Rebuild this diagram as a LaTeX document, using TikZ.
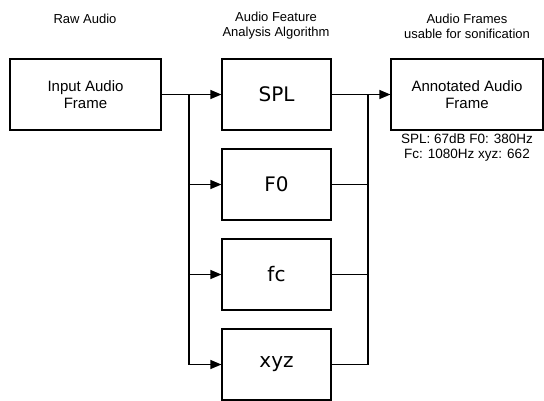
\documentclass[tikz,border=0pt]{standalone}
\usepackage{fontspec}
\setmainfont{Liberation Sans}
\newfontfamily\featfont{DejaVu Sans}
\usetikzlibrary{arrows.meta}
\tikzset{
  box/.style={draw=black, line width=1.2pt, minimum height=71pt, inner sep=0pt, align=center},
  iobox/.style={box, minimum width=151pt, font=\fontsize{15}{17}\selectfont},
  featbox/.style={box, minimum width=109pt, font=\featfont\fontsize{20}{24}\selectfont},
  head/.style={align=center, font=\fontsize{13}{15}\selectfont, inner sep=0pt},
  note/.style={align=center, font=\fontsize{13.5}{15}\selectfont, inner sep=0pt},
  conn/.style={line width=1.2pt},
  arr/.style={conn, -{Triangle[length=11pt,width=9pt]}}
}
\begin{document}
\begin{tikzpicture}[x=1pt,y=-1pt]
\useasboundingbox (0,0) rectangle (544,400);
\node[head] (h1) at (85,19) {Raw Audio};
\node[head] (h2) at (276,26) {Audio Feature\\Analysis Algorithm};
\node[head] (h3) at (467,26) {Audio Frames\\usable for sonification};

\node[iobox] (in) at (85.5,94.5) {Input Audio\\Frame};
\node[featbox] (spl) at (276.5,94.5) {SPL};
\node[featbox] (f0) at (276.5,184.5) {F0};
\node[featbox] (fc) at (276.5,274.5) {fc};
\node[featbox] (xyz) at (276.5,364.5) {xyz};
\node[iobox, minimum width=152pt] (out) at (467,94.5) {Annotated Audio\\Frame};
\node[note, anchor=north] (ann) at (467,134) {SPL: 67dB F0: 380Hz\\Fc: 1080Hz xyz: 662};

\coordinate (sp) at (189,94.5);
\coordinate (mg) at (368,94.5);

\draw[arr] (in.east) -- (spl.west);
\draw[conn] (sp) |- (xyz.west);
\draw[arr] (sp |- f0.west) -- (f0.west);
\draw[arr] (sp |- fc.west) -- (fc.west);
\draw[arr] (sp |- xyz.west) -- (xyz.west);

\draw[arr] (spl.east) -- (out.west);
\draw[conn] (mg) |- (xyz.east);
\draw[conn] (f0.east) -- (mg |- f0.east);
\draw[conn] (fc.east) -- (mg |- fc.east);
\end{tikzpicture}
\end{document}
